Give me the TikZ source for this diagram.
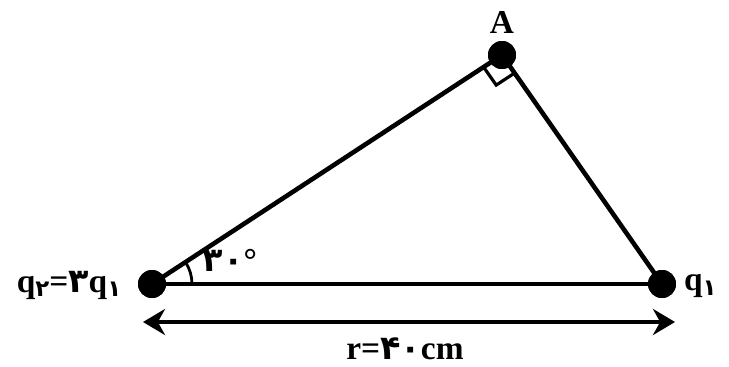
\documentclass[tikz,border=0pt]{standalone}
\usepackage{fontspec}
\setmainfont{Liberation Serif}
\newfontfamily\fadig{DejaVu Sans}
\usetikzlibrary{calc,positioning,arrows.meta}
\newcommand{\fd}[1]{{\fadig\bfseries #1}}
\newcommand{\fsub}[1]{\raisebox{-0.3ex}{\fontsize{13}{14}\selectfont\fd{#1}}}

\begin{document}
\begin{tikzpicture}[font=\bfseries,
  charge/.style={circle,fill=black,inner sep=0pt,minimum size=0.56cm},
  side/.style={line width=2.6pt},
  lbl/.style={font=\fontsize{19}{21}\selectfont\bfseries,inner sep=1pt}]
  \useasboundingbox (0cm,0cm) rectangle (14.5800cm,7.3200cm);
  % charges
  \node[charge] (q2) at (3.0400cm,1.6400cm) {};
  \node[charge] (q1) at (13.2400cm,1.6400cm) {};
  \node[charge] (pA) at (10.0400cm,6.2200cm) {};
  % right angle mark at A
  \coordinate (ma) at ($(pA)!0.44cm!(q2)$);
  \coordinate (mb) at ($(pA)!0.44cm!(q1)$);
  \coordinate (mc) at ($(ma)+(mb)-(pA)$);
  \draw[line width=1.8pt] (ma) -- (mc) -- (mb);
  % sides
  \draw[side] (q2.center) -- (q1.center);
  \draw[side] (q2.center) -- (pA.center);
  \draw[side] (pA.center) -- (q1.center);
  \node[charge] at (pA) {};
  \node[charge] at (q2) {};
  \node[charge] at (q1) {};
  % angle
  \draw[line width=1.6pt] ($(q2)+(0:0.8cm)$) arc[start angle=0,end angle=33.2,radius=0.8cm];
  \node[lbl] (ang) at (4.6000cm,2.1200cm) {\fd{۳۰}°};
  % distance
  \coordinate (ra) at (2.8600cm,0.8800cm);
  \coordinate (rb) at (13.5000cm,0.8800cm);
  \draw[line width=2.8pt,{Stealth[length=0.44cm,width=0.52cm]}-{Stealth[length=0.44cm,width=0.52cm]}] (ra) -- (rb);
  \node[lbl] (rl) at (8.1000cm,0.3400cm) {r=\fd{۴۰}cm};
  % labels
  \node[lbl] (la) at (10.0400cm,6.8800cm) {A};
  \node[lbl,anchor=west] (l1) at (13.6400cm,1.6000cm) {q\fsub{۱}};
  \node[lbl] (l2) at (1.3800cm,1.6200cm) {q\fsub{۲}=\fd{۳}q\fsub{۱}};
\end{tikzpicture}
\end{document}
